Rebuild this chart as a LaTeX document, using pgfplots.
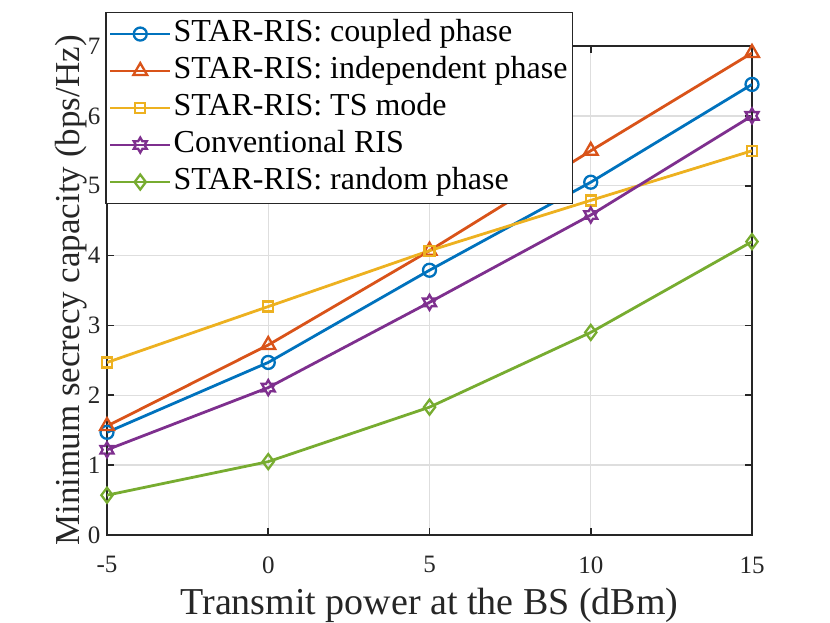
\documentclass[border=0pt]{standalone}
\usepackage{pgfplots}
\pgfplotsset{compat=1.18}
\usepackage{fontspec}
\setmainfont{Liberation Serif}
\definecolor{mblue}{rgb}{0,0.447,0.741}
\definecolor{morange}{rgb}{0.85,0.325,0.098}
\definecolor{myellow}{rgb}{0.929,0.694,0.125}
\definecolor{mpurple}{rgb}{0.494,0.184,0.556}
\definecolor{mgreen}{rgb}{0.466,0.674,0.188}
\definecolor{axgray}{rgb}{0.15,0.15,0.15}
\pgfdeclareplotmark{hexagram}{%
  \pgfpathmoveto{\pgfpointpolar{90}{\pgfplotmarksize}}%
  \pgfpathlineto{\pgfpointpolar{120}{0.577\pgfplotmarksize}}%
  \pgfpathlineto{\pgfpointpolar{150}{\pgfplotmarksize}}%
  \pgfpathlineto{\pgfpointpolar{180}{0.577\pgfplotmarksize}}%
  \pgfpathlineto{\pgfpointpolar{210}{\pgfplotmarksize}}%
  \pgfpathlineto{\pgfpointpolar{240}{0.577\pgfplotmarksize}}%
  \pgfpathlineto{\pgfpointpolar{270}{\pgfplotmarksize}}%
  \pgfpathlineto{\pgfpointpolar{300}{0.577\pgfplotmarksize}}%
  \pgfpathlineto{\pgfpointpolar{330}{\pgfplotmarksize}}%
  \pgfpathlineto{\pgfpointpolar{0}{0.577\pgfplotmarksize}}%
  \pgfpathlineto{\pgfpointpolar{30}{\pgfplotmarksize}}%
  \pgfpathlineto{\pgfpointpolar{60}{0.577\pgfplotmarksize}}%
  \pgfpathclose
  \pgfusepathqstroke}
\begin{document}
\begin{tikzpicture}
\path[use as bounding box] (0,0) rectangle (830bp,623bp);
\begin{axis}[
  at={(107bp,88bp)}, anchor=south west,
  scale only axis, width=645bp, height=489bp,
  xmin=-5, xmax=15, ymin=0, ymax=7,
  xtick={-5,0,5,10,15}, ytick={0,1,...,7},
  xticklabels={-5,0,5,10,15},
  grid=major,
  grid style={line width=1.3bp, draw=black!13},
  axis line style={line width=1.6bp, draw=axgray},
  tick style={line width=1.6bp, draw=axgray},
  major tick length=7bp,
  tick align=inside,
  xtick pos=both, ytick pos=both,
  /pgf/number format/assume math mode=true,
  ticklabel style={font=\fontsize{25bp}{29bp}\selectfont, text=axgray},
  xticklabel style={yshift=-18bp},
  yticklabel style={xshift=-3bp},
  xlabel={Transmit power at the BS (dBm)},
  ylabel={Minimum secrecy capacity (bps/Hz)},
  label style={text=axgray},
  xlabel style={font=\fontsize{38bp}{44bp}\selectfont, at={(axis description cs:0.5,-0.162)}, anchor=base},
  ylabel style={font=\fontsize{35bp}{40bp}\selectfont, at={(axis description cs:-0.055,0.5)}, anchor=center},
  legend style={at={(-0.003,1.07)}, anchor=north west,
    font=\fontsize{32bp}{36bp}\selectfont, draw=axgray, line width=1.6bp,
    fill=white, inner sep=3bp, row sep=0bp,
    nodes={text height=24bp, text depth=9bp, inner sep=2bp},
    legend cell align=left},
  legend image code/.code={%
    \draw[mark repeat=2,mark phase=2] plot coordinates {(0bp,0bp) (30bp,0bp) (60bp,0bp)};},
  every axis plot/.append style={line width=2.8bp},
  mark options={solid, line width=2.3bp, fill=none},
]
\addplot[color=mblue, mark=o, mark size=6.5bp] coordinates {(-5,1.47) (0,2.47) (5,3.79) (10,5.05) (15,6.45)};
\addlegendentry{STAR-RIS: coupled phase}
\addplot[color=morange, mark=triangle, mark size=8bp] coordinates {(-5,1.56) (0,2.72) (5,4.07) (10,5.5) (15,6.9)};
\addlegendentry{STAR-RIS: independent phase}
\addplot[color=myellow, mark=square, mark size=5bp] coordinates {(-5,2.47) (0,3.27) (5,4.07) (10,4.79) (15,5.5)};
\addlegendentry{STAR-RIS: TS mode}
\addplot[color=mpurple, mark=hexagram, mark size=7.5bp] coordinates {(-5,1.22) (0,2.11) (5,3.33) (10,4.58) (15,6.0)};
\addlegendentry{Conventional RIS}
\addplot[color=mgreen, mark=diamond, mark size=7.5bp] coordinates {(-5,0.57) (0,1.05) (5,1.83) (10,2.9) (15,4.2)};
\addlegendentry{STAR-RIS: random phase}
\end{axis}
\end{tikzpicture}
\end{document}
